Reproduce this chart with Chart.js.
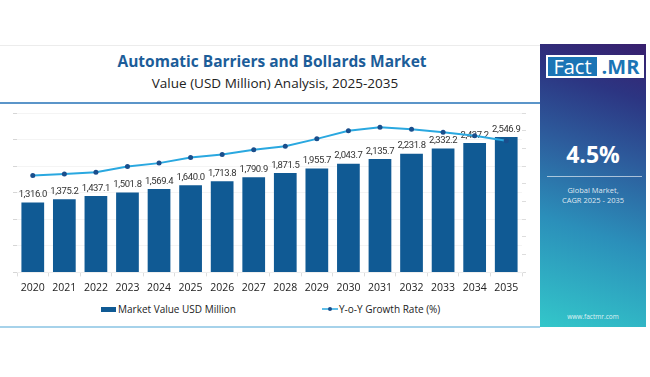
<!DOCTYPE html>
<html>
<head>
<meta charset="utf-8">
<script src="https://cdn.jsdelivr.net/npm/chart.js@4"></script>
<style>
  html, body { margin: 0; padding: 0; background: #fff; }
  #wrap { position: relative; width: 650px; height: 377px; overflow: hidden; font-family: 'Open Sans', sans-serif; }
  .rule { position: absolute; left: 0; width: 540px; }
  #topLine { top: 45px; height: 1px; background: #ececec; }
  #blueLine { top: 102px; height: 2px; background: #5b95c9; }
  #bottomLine { top: 326px; height: 2px; background: #a6d2ea; }
  #title { position: absolute; left: 0; width: 544px; top: 51px; text-align: center; font-size: 15.5px; line-height: 20px; font-weight: 700; color: #1c5d99; }
  #subtitle { position: absolute; left: 0; width: 550px; top: 74px; text-align: center; font-size: 13.5px; line-height: 18px; color: #222; }
  #chart { position: absolute; left: 0; top: 104px; }
  .leg { position: absolute; top: 302px; height: 14px; font-size: 10px; line-height: 14px; color: #222; white-space: nowrap; }
  .leg .box { display: inline-block; width: 15px; height: 5px; background: #105a94; vertical-align: middle; margin-right: 2px; position: relative; top: -1px; }
  .leg .mark { display: inline-block; width: 16px; height: 6px; vertical-align: middle; position: relative; top: -1px; margin-right: 1px; }
  #panel { position: absolute; left: 540px; top: 44px; width: 106px; height: 283px; color: #fff; text-align: center;
           background: linear-gradient(18deg, #33c7ca 0%, #2b8fba 35%, #2d5a9b 62%, #2c3582 82%, #381f6d 100%); }
  #logo { position: absolute; left: 6px; top: 11px; width: 98px; height: 23px; background: #fff; }
  #logo .fact { position: absolute; left: 2px; top: 2px; width: 49px; height: 19px; background: #1b75b5; color: #fff; font-size: 20px; line-height: 19px; }
  #logo .mr { position: absolute; left: 51px; top: 2px; width: 47px; height: 19px; color: #1b75b5; font-size: 20px; line-height: 19px; font-weight: 700; }
  #cagr { position: absolute; left: 0; width: 106px; top: 97px; font-size: 23px; line-height: 26px; font-weight: 700; }
  #sep { position: absolute; left: 7px; width: 95px; top: 132px; height: 1px; background: rgba(255,255,255,0.6); }
  #cagrNote { position: absolute; left: 0; width: 106px; top: 141px; font-size: 7.5px; line-height: 10px; color: rgba(255,255,255,0.85); }
  #site { position: absolute; left: 0; width: 106px; top: 269px; font-size: 6.5px; line-height: 8px; color: rgba(255,255,255,0.85); }
</style>
</head>
<body>
<div id="wrap">
  <div class="rule" id="topLine"></div>
  <div id="title">Automatic Barriers and Bollards Market</div>
  <div id="subtitle">Value (USD Million) Analysis, 2025-2035</div>
  <div class="rule" id="blueLine"></div>
  <canvas id="chart" width="540" height="196"></canvas>
  <div class="leg" style="left:101px"><span class="box"></span>Market Value USD Million</div>
  <div class="leg" style="left:322px"><svg class="mark" viewBox="0 0 16 6"><line x1="0" y1="3" x2="16" y2="3" stroke="#2aa8e0" stroke-width="1.5"/><circle cx="8" cy="3" r="2" fill="#1a4e8c"/></svg>Y-o-Y Growth Rate (%)</div>
  <div class="rule" id="bottomLine"></div>
  <div id="panel">
    <div id="logo"><div class="fact">Fact</div><div class="mr">.MR</div></div>
    <div id="cagr">4.5%</div>
    <div id="sep"></div>
    <div id="cagrNote">Global Market,<br>CAGR 2025 - 2035</div>
    <div id="site">www.factmr.com</div>
  </div>
</div>
<script>
    const years = ['2020', '2021', '2022', '2023', '2024', '2025', '2026', '2027', '2028', '2029', '2030', '2031', '2032', '2033', '2034', '2035'];
    const marketValue = [1316.0, 1375.2, 1437.1, 1501.8, 1569.4, 1640.0, 1713.8, 1790.9, 1871.5, 1955.7, 2043.7, 2135.7, 2231.8, 2332.2, 2437.2, 2546.9];
    const growthRate = [5.47, 5.55, 5.66, 5.98, 6.17, 6.49, 6.66, 6.92, 7.12, 7.54, 8.0, 8.19, 8.08, 7.91, 7.72, 7.43];

    const barColor = '#105a94';
    const lineColor = '#2aa8e0';
    const dotColor = '#1a4e8c';

    // value labels above the bars, drawn before the line so it sits on top
    const barLabels = {
        id: 'barLabels',
        afterDatasetDraw(chart, args) {
            if (args.index !== 0) return;
            const ctx = chart.ctx;
            ctx.save();
            ctx.font = '9.5px Roboto';
            ctx.letterSpacing = '-0.4px';
            ctx.fillStyle = '#333';
            ctx.textAlign = 'center';
            ctx.textBaseline = 'bottom';
            args.meta.data.forEach((bar, i) => {
                const txt = marketValue[i].toLocaleString('en-US', { minimumFractionDigits: 1, maximumFractionDigits: 1 });
                ctx.fillText(txt, bar.x, bar.y - 3);
            });
            ctx.restore();
        }
    };

    const ctx = document.getElementById('chart').getContext('2d');
    const marketChart = new Chart(ctx, {
        data: {
            labels: years,
            datasets: [
                {
                    type: 'bar',
                    label: 'Market Value USD Million',
                    data: marketValue,
                    backgroundColor: barColor,
                    barPercentage: 0.72,
                    categoryPercentage: 1,
                    yAxisID: 'y',
                    order: 1
                },
                {
                    type: 'line',
                    label: 'Y-o-Y Growth Rate (%)',
                    data: growthRate,
                    borderColor: lineColor,
                    borderWidth: 2,
                    pointRadius: 2.5,
                    pointBackgroundColor: dotColor,
                    pointBorderWidth: 0,
                    tension: 0,
                    yAxisID: 'y1',
                    order: 0
                }
            ]
        },
        options: {
            responsive: false,
            animation: false,
            layout: { padding: { top: 9, left: 13, right: 14, bottom: 1 } },
            plugins: {
                legend: { display: false },
                tooltip: { enabled: false }
            },
            scales: {
                x: {
                    grid: { drawOnChartArea: false, tickLength: 4, tickColor: '#dddddd' },
                    border: { color: '#eeeeee' },
                    ticks: { color: '#222', padding: 5, font: { family: 'Open Sans', size: 10.5 } }
                },
                y: {
                    position: 'left',
                    min: 0, max: 3000,
                    ticks: { display: false, stepSize: 500 },
                    grid: { color: '#f4f4f4', tickLength: 4, tickColor: '#d6d6d6' },
                    border: { display: false }
                },
                y1: {
                    position: 'right',
                    min: 0, max: 9,
                    ticks: { display: false, stepSize: 1 },
                    grid: { drawOnChartArea: false, tickLength: 4, tickColor: '#dddddd' },
                    border: { display: false }
                }
            }
        },
        plugins: [barLabels]
    });
</script>
</body>
</html>
